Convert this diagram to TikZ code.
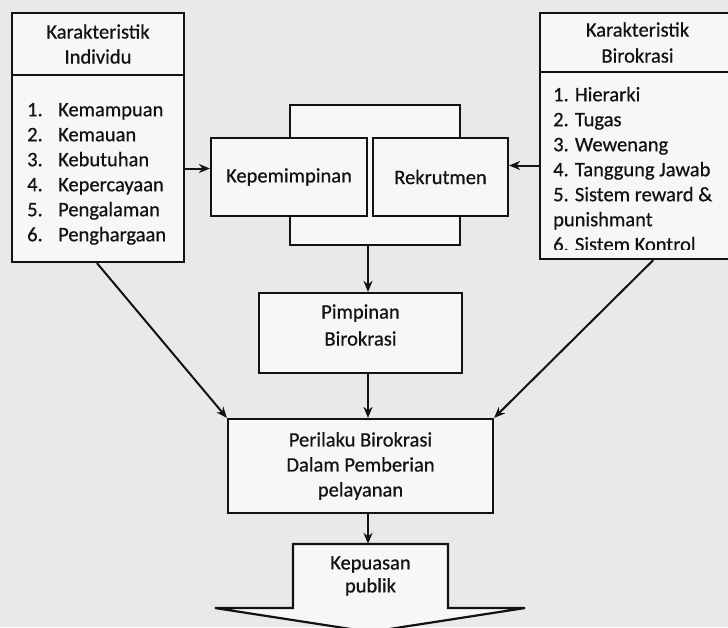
\documentclass[tikz,border=0pt]{standalone}
\usepackage{fontspec}
\setmainfont[FakeBold=0.6]{Carlito}
\usetikzlibrary{arrows.meta,calc}
\definecolor{bg}{RGB}{233,233,231}
\definecolor{boxfill}{RGB}{247,247,245}
\definecolor{ink}{RGB}{18,18,18}
\begin{document}
\begin{tikzpicture}[x=1pt,y=-1pt,
  every node/.style={font=\fontsize{20.5}{25}\selectfont, text=ink},
  box/.style={draw=ink, line width=2.2pt, fill=boxfill, inner sep=0pt, line join=miter},
  arr/.style={draw=ink, line width=2pt, -{Stealth[length=11pt,width=9pt]}},
  lst/.style={anchor=north west, inner sep=0pt, align=left},
]
\useasboundingbox (0,0) rectangle (728,627);
\fill[bg] (0,0) rectangle (728,627);
\clip (0,0) rectangle (728,627);

% Karakteristik Individu
\node[box, minimum width=172pt, minimum height=62pt, align=center] (indH) at (98,44) {Karakteristik\\Individu};
\node[box, minimum width=172pt, minimum height=187pt] (indB) at (98,168.5) {};
\node[lst] (indL) at (27,98.5) {\begin{tabular}{@{}l@{\hspace{15.4pt}}l@{}}
1. & Kemampuan\\
2. & Kemauan\\
3. & Kebutuhan\\
4. & Kepercayaan\\
5. & Pengalaman\\
6. & Penghargaan
\end{tabular}};

% Karakteristik Birokrasi
\node[box, minimum width=195pt, minimum height=59pt, align=center] (birH) at (637.5,42.5) {Karakteristik\\[1pt]Birokrasi};
\node[box, minimum width=195pt, minimum height=187pt] (birB) at (637.5,165.5) {};
\begin{scope}
\clip (540,72) rectangle (735,249.5);
\node[lst] (birL) at (553,83.5) {\begin{tabular}{@{}l@{}}
1. Hierarki\\
2. Tugas\\
3. Wewenang\\
4. Tanggung Jawab\\
5. Sistem reward \&\\
punishmant\\
6. Sistem Kontrol
\end{tabular}};
\end{scope}

% middle group
\node[box, minimum width=170pt, minimum height=140pt] (back) at (375,175) {};
\node[box, minimum width=156pt, minimum height=78pt] (kpm) at (289,177) {Kepemimpinan};
\node[box, minimum width=135pt, minimum height=78pt] (rek) at (440.5,177) {Rekrutmen};

\node[box, minimum width=203pt, minimum height=80pt] (pim) at (360.5,333) {\raisebox{6pt}[\height][\depth]{\begin{tabular}{@{}c@{}}Pimpinan\\[2pt]Birokrasi\end{tabular}}};
\node[box, minimum width=265pt, minimum height=94pt, align=center] (per) at (360.5,466) {Perilaku Birokrasi\\Dalam Pemberian\\pelayanan};

% Kepuasan publik block arrow
\draw[box] (293,544) -- (448,544) -- (448,608) -- (525,608) -- (370,632) -- (215,608) -- (293,608) -- cycle;
\node[minimum width=155pt, minimum height=64pt, inner sep=0pt, align=center] (kpu) at (370.5,576) {Kepuasan\\[-2pt]publik};

% connectors
\coordinate (spine) at (368,0);
\draw[arr] (indB.east) -- (kpm.west |- indB.east);
\draw[arr] (birB.west) -- (rek.east |- birB.west);
\draw[arr] (back.south -| spine) -- (pim.north -| spine);
\draw[arr] (pim.south -| spine) -- (per.north -| spine);
\draw[arr] (per.south -| spine) -- (kpu.north -| spine);
\draw[arr] ($(indB.south west)!0.494!(indB.south east)$) -- (per.north west);
\draw[arr] ($(birB.south west)!0.58!(birB.south east)$) -- (per.north east);
\end{tikzpicture}
\end{document}
